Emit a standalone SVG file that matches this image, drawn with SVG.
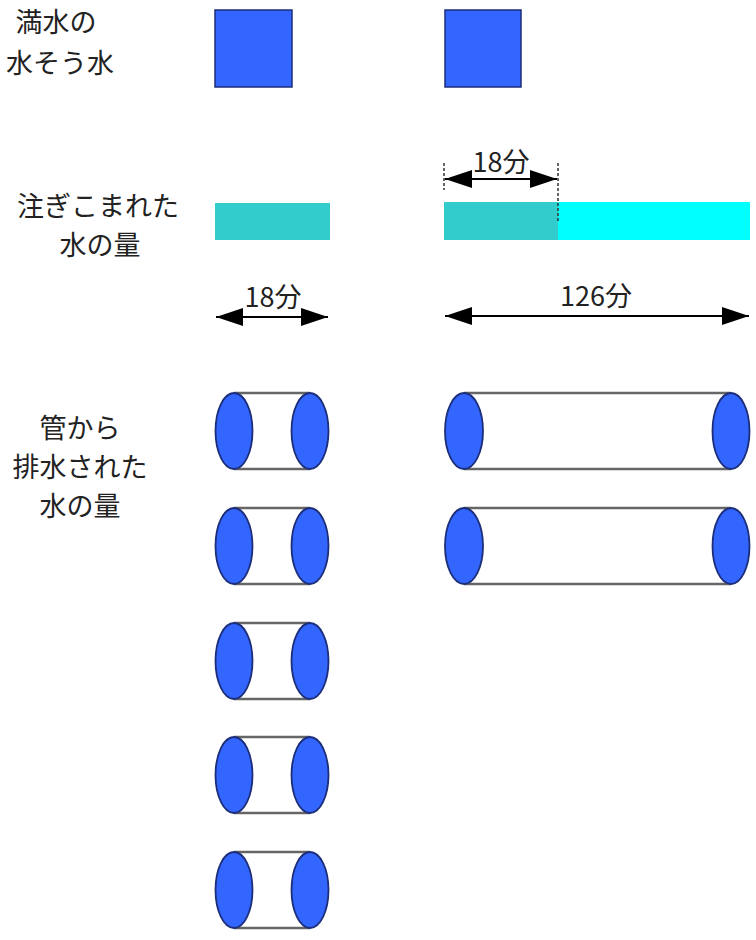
<svg xmlns="http://www.w3.org/2000/svg" width="756" height="940" viewBox="0 0 756 940">
<defs>
<style>
.lbl{font-family:"Noto Sans CJK JP","Noto Sans",sans-serif;font-size:27px;fill:#222;text-anchor:middle}
.num{font-family:"Noto Sans CJK JP","Noto Sans",sans-serif;font-size:27px;fill:#222;text-anchor:middle}
.sq{fill:#3366FF;stroke:#1C2E7A;stroke-width:1.5}
.end{fill:#3366FF;stroke:#1C2E7A;stroke-width:1.8}
.side{stroke:#666;stroke-width:2.5}
.dim{stroke:#000;stroke-width:2;fill:none}
.dash{stroke:#333;stroke-width:1.5;stroke-dasharray:3 2}
</style>
<marker id="ah" viewBox="0 0 27 18" refX="27" refY="9" markerWidth="27" markerHeight="18" markerUnits="userSpaceOnUse" orient="auto-start-reverse">
<path d="M0,0 L27,9 L0,18 Z" fill="#000"/>
</marker>
</defs>
<rect width="756" height="940" fill="#fff"/>
<g id="labels">
<text class="lbl" x="56" y="32">満水の</text>
<text class="lbl" x="60" y="73">水そう水</text>
<text class="lbl" x="98" y="216">注ぎこまれた</text>
<text class="lbl" x="100" y="255">水の量</text>
<text class="lbl" x="80" y="438">管から</text>
<text class="lbl" x="80" y="477">排水された</text>
<text class="lbl" x="80" y="516">水の量</text>
</g>
<g id="tank-left"><rect class="sq" x="215" y="10" width="77" height="77"/></g>
<g id="tank-right"><rect class="sq" x="445" y="10" width="76" height="77"/></g>
<g id="bar-left"><rect x="215" y="203" width="115" height="37" fill="#33CCCC"/></g>
<g id="bar-right">
<rect x="444" y="202" width="306" height="38" fill="#00FFFF"/>
<rect x="444" y="202" width="114" height="38" fill="#33CCCC"/>
</g>
<g id="pipes-left">
<g id="pipe-l1"><line class="side" x1="234" y1="393" x2="310" y2="393"/><line class="side" x1="234" y1="469" x2="310" y2="469"/><ellipse class="end" cx="234" cy="431" rx="18.5" ry="38"/><ellipse class="end" cx="310" cy="431" rx="18.5" ry="38"/></g>
<g id="pipe-l2"><line class="side" x1="234" y1="508" x2="310" y2="508"/><line class="side" x1="234" y1="584" x2="310" y2="584"/><ellipse class="end" cx="234" cy="546" rx="18.5" ry="38"/><ellipse class="end" cx="310" cy="546" rx="18.5" ry="38"/></g>
<g id="pipe-l3"><line class="side" x1="234" y1="623" x2="310" y2="623"/><line class="side" x1="234" y1="699" x2="310" y2="699"/><ellipse class="end" cx="234" cy="661" rx="18.5" ry="38"/><ellipse class="end" cx="310" cy="661" rx="18.5" ry="38"/></g>
<g id="pipe-l4"><line class="side" x1="234" y1="737" x2="310" y2="737"/><line class="side" x1="234" y1="813" x2="310" y2="813"/><ellipse class="end" cx="234" cy="775" rx="18.5" ry="38"/><ellipse class="end" cx="310" cy="775" rx="18.5" ry="38"/></g>
<g id="pipe-l5"><line class="side" x1="234" y1="852" x2="310" y2="852"/><line class="side" x1="234" y1="928" x2="310" y2="928"/><ellipse class="end" cx="234" cy="890" rx="18.5" ry="38"/><ellipse class="end" cx="310" cy="890" rx="18.5" ry="38"/></g>
</g>
<g id="pipes-right">
<g id="pipe-r1"><line class="side" x1="464" y1="393" x2="731" y2="393"/><line class="side" x1="464" y1="469" x2="731" y2="469"/><ellipse class="end" cx="464" cy="431" rx="19" ry="38"/><ellipse class="end" cx="731" cy="431" rx="18.5" ry="38"/></g>
<g id="pipe-r2"><line class="side" x1="464" y1="508" x2="731" y2="508"/><line class="side" x1="464" y1="584" x2="731" y2="584"/><ellipse class="end" cx="464" cy="546" rx="19" ry="38"/><ellipse class="end" cx="731" cy="546" rx="18.5" ry="38"/></g>
</g>
<g id="connectors">
<line class="dash" x1="444" y1="163" x2="444" y2="190"/>
<line class="dash" x1="558" y1="163" x2="558" y2="222"/>
<line class="dim" x1="445" y1="179" x2="557" y2="179" marker-start="url(#ah)" marker-end="url(#ah)"/>
<line class="dim" x1="216" y1="317" x2="328" y2="317" marker-start="url(#ah)" marker-end="url(#ah)"/>
<line class="dim" x1="445" y1="316" x2="749" y2="316" marker-start="url(#ah)" marker-end="url(#ah)"/>
</g>
<g id="dim-labels">
<text class="num" x="501" y="172">18分</text>
<text class="num" x="273" y="307">18分</text>
<text class="num" x="596" y="306">126分</text>
</g>
</svg>
